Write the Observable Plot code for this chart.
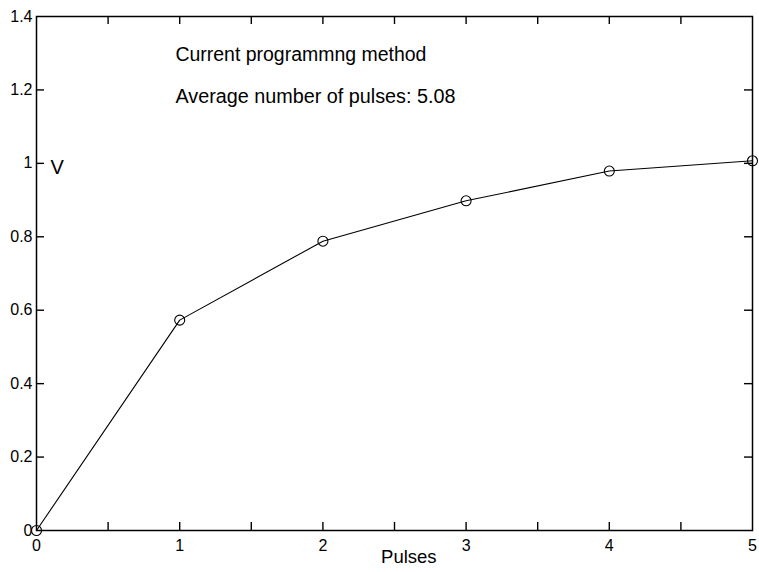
<!DOCTYPE html>
<html>
<head>
<meta charset="utf-8">
<script src="https://cdn.jsdelivr.net/npm/d3@7"></script>
<script src="https://cdn.jsdelivr.net/npm/@observablehq/plot@0.6"></script>
<style>
  html, body { margin: 0; padding: 0; background: #fff; }
  #chart svg { display: block; }
</style>
</head>
<body>
<div id="chart"></div>
<script>
// Data
const pulses = [0, 1, 2, 3, 4, 5];
const voltage = [0, 0.573, 0.788, 0.898, 0.979, 1.007];
const xTickLabels = [0, 1, 2, 3, 4, 5];
const xTickMarks = [0.5, 1, 1.5, 2, 2.5, 3, 3.5, 4, 4.5];
const yTickLabels = [0, 0.2, 0.4, 0.6, 0.8, 1, 1.2, 1.4];
const yTickMarks = [0.2, 0.4, 0.6, 0.8, 1, 1.2];
const annotations = ["Current programmng method", "Average number of pulses: 5.08"];
const annotationY = [1.279, 1.165];
const annotationLen = [251, 280];

const data = pulses.map((p, i) => ({pulses: p, v: voltage[i]}));

const W = 759, H = 572;
const mL = 36, mR = 7, mT = 16, mB = 42;
const innerW = W - mL - mR, innerH = H - mT - mB;
const tickLen = 8;
const font = "'Liberation Sans', Arial, sans-serif";

const chart = Plot.plot({
  width: W,
  height: H,
  marginLeft: mL,
  marginRight: mR,
  marginTop: mT,
  marginBottom: mB,
  style: {fontFamily: font, background: "#fff", color: "#000"},
  x: {domain: [0, 5]},
  y: {domain: [0, 1.4]},
  marks: [
    Plot.frame({stroke: "#000", strokeWidth: 1.5}),
    // inward tick marks: bottom, top, left, right
    Plot.tickX(xTickMarks, {x: d => d, insetTop: innerH - tickLen, stroke: "#000", strokeWidth: 1.4}),
    Plot.tickX(xTickMarks, {x: d => d, insetBottom: innerH - tickLen, stroke: "#000", strokeWidth: 1.4}),
    Plot.tickY(yTickMarks, {y: d => d, insetRight: innerW - tickLen, stroke: "#000", strokeWidth: 1.4}),
    Plot.tickY(yTickMarks, {y: d => d, insetLeft: innerW - tickLen, stroke: "#000", strokeWidth: 1.4}),
    Plot.axisX(xTickLabels, {tickSize: 0, tickPadding: 9, fontSize: 16, label: null, tickFormat: d => String(d)}),
    Plot.axisY(yTickLabels, {tickSize: 0, tickPadding: 4, fontSize: 16, label: null, tickFormat: d => String(d)}),
    Plot.line(data, {x: "pulses", y: "v", stroke: "#000", strokeWidth: 1.1}),
    Plot.dot(data, {x: "pulses", y: "v", r: 5, stroke: "#000", fill: "none", strokeWidth: 1.1}),
    Plot.text(annotations, {x: 0.97, y: (d, i) => annotationY[i], text: d => d, textAnchor: "start", lineAnchor: "bottom", fontSize: 19.5, fill: "#000", className: "annot"}),
    Plot.text(["V"], {x: 0.098, y: 0.971, text: d => d, textAnchor: "start", lineAnchor: "bottom", fontSize: 20, fill: "#000"}),
    Plot.text(["Pulses"], {x: 2.6, frameAnchor: "bottom", dy: 32, text: d => d, textAnchor: "middle", lineAnchor: "bottom", fontSize: 18.5, fill: "#000"})
  ]
});
document.getElementById("chart").appendChild(chart);
// match the measured widths of the annotation lines
chart.querySelectorAll("g.annot text").forEach((t, i) => {
  t.setAttribute("textLength", annotationLen[i]);
  t.setAttribute("lengthAdjust", "spacingAndGlyphs");
});
</script>
</body>
</html>
